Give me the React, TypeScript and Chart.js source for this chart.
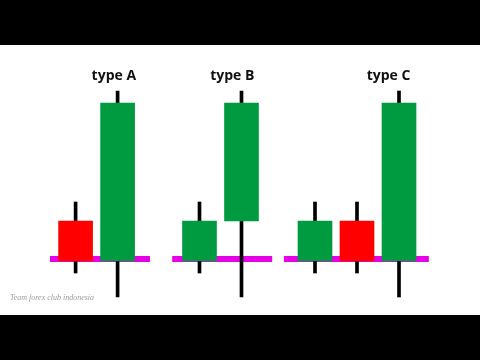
import React, { useEffect, useRef } from "react";
import { Chart, registerables } from "chart.js";

Chart.register(...registerables);

// candle slots along the x axis (slot units)
const positions = [1.8, 2.8, 4.75, 5.75, 7.5, 8.5, 9.5];
const opens = [1, 0, 0, 1, 0, 1, 0];
const closes = [0, 3.95, 1, 3.95, 1, 0, 3.95];
const highs = [1.475, 4.25, 1.475, 4.25, 1.475, 1.475, 4.25];
const lows = [-0.3, -0.9, -0.3, -0.9, -0.3, -0.3, -0.9];

// support level lines per group
const supportLevel = 0.05;
const supportStarts = [1.19, 4.1, 6.76];
const supportEnds = [3.57, 6.48, 10.21];

// group labels
const groupLabels = ["type A", "type B", "type C"];
const groupLabelPositions = [2.71, 5.53, 9.25];
const groupLabelLevel = 4.625;

const watermark = "Team forex club indonesia";

const GREEN = "#009b40";
const RED = "#ff0000";
const MAGENTA = "#e600e6";

export default function App() {
  const ref = useRef<HTMLCanvasElement | null>(null);

  useEffect(() => {
    if (!ref.current) return;

    const bodies = positions.map((x, i) => ({ x, y: [opens[i], closes[i]] }));
    const wicks = positions.map((x, i) => ({ x, y: [lows[i], highs[i]] }));
    const bodyColors = positions.map((_, i) => (closes[i] >= opens[i] ? GREEN : RED));

    const supportData: any[] = [];
    supportStarts.forEach((s, i) => {
      supportData.push({ x: s, y: supportLevel });
      supportData.push({ x: supportEnds[i], y: supportLevel });
      supportData.push({ x: (supportEnds[i] + (supportStarts[i + 1] ?? supportEnds[i] + 1)) / 2, y: null });
    });

    const textPlugin = {
      id: "texts",
      afterDatasetsDraw(chart: any) {
        const ctx = chart.ctx;
        const xs = chart.scales.x;
        const ys = chart.scales.y;
        ctx.save();
        ctx.fillStyle = "#111";
        ctx.font = "bold 14px 'Open Sans'";
        ctx.textAlign = "center";
        ctx.textBaseline = "middle";
        groupLabels.forEach((t, i) => {
          ctx.fillText(t, xs.getPixelForValue(groupLabelPositions[i]), ys.getPixelForValue(groupLabelLevel));
        });
        ctx.fillStyle = "#9a9a9a";
        ctx.font = "italic 8px 'Liberation Serif'";
        ctx.textAlign = "left";
        ctx.fillText(watermark, chart.chartArea.left + 10, chart.chartArea.top + 253);
        ctx.restore();
      },
    };

    const chart = new Chart(ref.current, {
      type: "bar",
      data: {
        datasets: [
          {
            type: "line",
            data: supportData,
            borderColor: MAGENTA,
            borderWidth: 6,
            borderCapStyle: "butt",
            pointRadius: 0,
            spanGaps: false,
            order: 3,
          } as any,
          {
            type: "bar",
            data: wicks as any,
            backgroundColor: "#000",
            borderWidth: 0,
            barThickness: 3,
            grouped: false,
            order: 2,
          } as any,
          {
            type: "bar",
            data: bodies as any,
            backgroundColor: bodyColors,
            borderWidth: 0,
            barThickness: 34,
            grouped: false,
            order: 1,
          } as any,
        ],
      },
      plugins: [textPlugin],
      options: {
        animation: false,
        responsive: false,
        devicePixelRatio: 1,
        layout: { padding: 0 },
        scales: {
          x: { type: "linear", min: 0, max: 480 / 42, offset: false, display: false },
          y: { type: "linear", min: -1.35, max: 5.4, display: false },
        },
        plugins: { legend: { display: false }, tooltip: { enabled: false } },
      } as any,
    });
    return () => chart.destroy();
  }, []);

  return (
    <div style={{ position: "fixed", left: 0, top: 0, width: 480, height: 360, background: "#000" }}>
      <div style={{ position: "absolute", left: 0, top: 45, width: 480, height: 270, background: "#fff" }}>
        <canvas ref={ref} width={480} height={270} style={{ display: "block" }} />
      </div>
    </div>
  );
}
